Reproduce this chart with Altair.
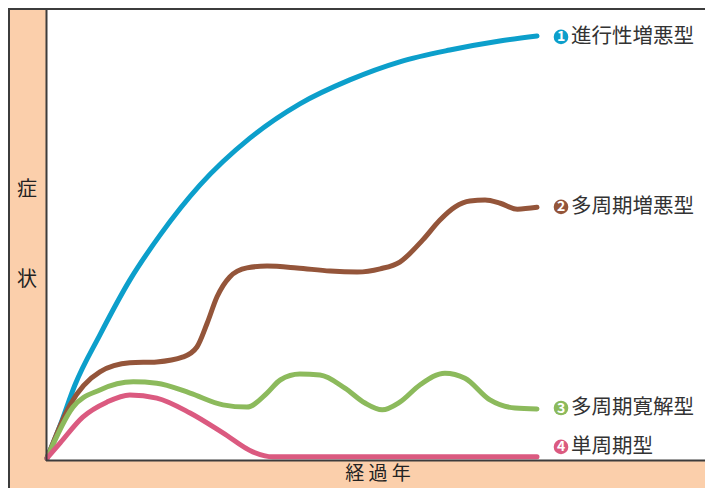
import altair as alt
import pandas as pd

# ---- data (x: years, y: symptom level 0-100) ----
blue_x = [0, 0.27, 0.57, 1.08, 1.69, 2.31, 3.12, 4.14, 5.16, 6.18, 7.20, 8.22, 9.24, 10]
blue_y = [0.4, 7.7, 16.6, 27.7, 39.8, 49.8, 60.8, 71.2, 78.8, 84.1, 88.1, 90.7, 92.7, 93.8]

brown_x = [0, 0.47, 1.08, 1.69, 2.24, 2.78, 3.06, 3.27, 3.47, 3.73, 4.08, 4.49, 5.10, 5.78,
           6.33, 6.80, 7.20, 7.67, 8.02, 8.33, 8.63, 8.94, 9.25, 9.60, 10]
brown_y = [0.4, 12.2, 19.5, 21.5, 21.7, 22.8, 25.0, 30.3, 36.1, 40.5, 42.5, 42.9, 42.5, 41.8,
           41.6, 42.3, 43.8, 48.7, 53.1, 56.0, 57.3, 57.5, 56.8, 55.5, 55.9]

green_x = [0, 0.53, 1.08, 1.76, 2.24, 2.92, 3.59, 4.08, 4.49, 4.76, 5.16, 5.57, 6.08, 6.49,
           6.84, 7.20, 7.61, 8.12, 8.53, 9.04, 9.55, 10]
green_y = [0.4, 11.7, 15.5, 17.3, 17.0, 14.8, 12.2, 11.7, 14.8, 17.7, 19.0, 18.8, 15.9, 12.6,
           11.1, 12.8, 16.6, 19.2, 18.1, 13.3, 11.5, 11.3]

pink_x = [0, 0.27, 0.73, 1.22, 1.69, 2.24, 2.92, 3.59, 4.20, 4.61, 5.57, 7.61, 10]
pink_y = [0.4, 3.8, 9.5, 12.8, 14.4, 13.7, 10.4, 6.0, 1.8, 0.7, 0.7, 0.7, 0.7]

series_keys = ["1", "2", "3", "4"]
series_names = ["進行性増悪型", "多周期増悪型", "多周期寛解型", "単周期型"]
series_colors = ["#0c9fcb", "#94553a", "#8cba5c", "#db5a80"]
label_x = [10.49, 10.49, 10.49, 10.49]
label_y = [93.6, 56.0, 11.5, 2.9]

x_title = "経 過 年"
y_title_top = "症"
y_title_bottom = "状"

PEACH = "#fbcfab"
DARK = "#3c3c3c"
FONT = "Noto Sans CJK JP"

rows = []
for key, xs, ys in zip(series_keys, [blue_x, brown_x, green_x, pink_x],
                       [blue_y, brown_y, green_y, pink_y]):
    for i, (xv, yv) in enumerate(zip(xs, ys)):
        rows.append({"series": key, "year": xv, "sym": yv, "i": i})
df = pd.DataFrame(rows)

labels = pd.DataFrame({
    "series": series_keys,
    "name": series_names,
    "year": label_x,
    "sym": label_y,
})

W, H = 658, 452
xscale = alt.Scale(domain=[0, W / 49.0], nice=False, zero=False)
yscale = alt.Scale(domain=[0, 100], nice=False, zero=False)
cscale = alt.Scale(domain=series_keys, range=series_colors)

X = alt.X("year:Q", scale=xscale, axis=None)
Y = alt.Y("sym:Q", scale=yscale, axis=None)

lines = alt.Chart(df).mark_line(strokeWidth=5, interpolate="monotone", strokeCap="round").encode(
    x=X, y=Y,
    color=alt.Color("series:N", scale=cscale, legend=None),
    order="i:Q",
)

dots = alt.Chart(labels).mark_circle(size=215, opacity=1).encode(
    x=X, y=Y, color=alt.Color("series:N", scale=cscale, legend=None)
)
digits = alt.Chart(labels).mark_text(
    color="white", fontSize=14, fontWeight="bold", font=FONT, baseline="middle", dy=0.5
).encode(x=X, y=Y, text="series:N")
names = alt.Chart(labels).mark_text(
    align="left", baseline="middle", dx=10, fontSize=20.5, font=FONT, color="#333333"
).encode(x=X, y=Y, text="name:N")

# frame lines
one = pd.DataFrame({"a": [0]})
top_rule = alt.Chart(one).mark_rule(color=DARK, strokeWidth=2).encode(
    x=alt.value(-39), x2=alt.value(W + 5), y=alt.value(1))
outer_left = alt.Chart(one).mark_rule(color=DARK, strokeWidth=2).encode(
    x=alt.value(-38), y=alt.value(0), y2=alt.value(H + 40))
plot_left = alt.Chart(one).mark_rule(color=DARK, strokeWidth=2).encode(
    x=alt.value(-0.5), y=alt.value(0), y2=alt.value(H + 1))
plot_bottom = alt.Chart(one).mark_rule(color=DARK, strokeWidth=2).encode(
    x=alt.value(-1), x2=alt.value(W + 5), y=alt.value(H + 0.5))

# titles
def title_text(t, xv, yv, size=20):
    return alt.Chart(pd.DataFrame({"t": [t]})).mark_text(
        fontSize=size, font=FONT, color="#222222", align="center", baseline="middle"
    ).encode(x=alt.value(xv), y=alt.value(yv), text="t:N")

t1 = title_text(y_title_top, -20, 182)
t2 = title_text(y_title_bottom, -20, 272)
t3 = title_text(x_title, 331, 466, 19)

chart = alt.layer(
    lines, plot_left, plot_bottom, top_rule, outer_left, dots, digits, names, t1, t2, t3
).properties(
    width=W, height=H,
    padding={"left": 39, "top": 0, "right": 0, "bottom": 28},
    autosize=alt.AutoSizeParams(type="none"),
    background=PEACH,
).configure_view(fill="white", stroke=None)

chart.save("out.html", embed_options={"renderer": "svg", "actions": False})
